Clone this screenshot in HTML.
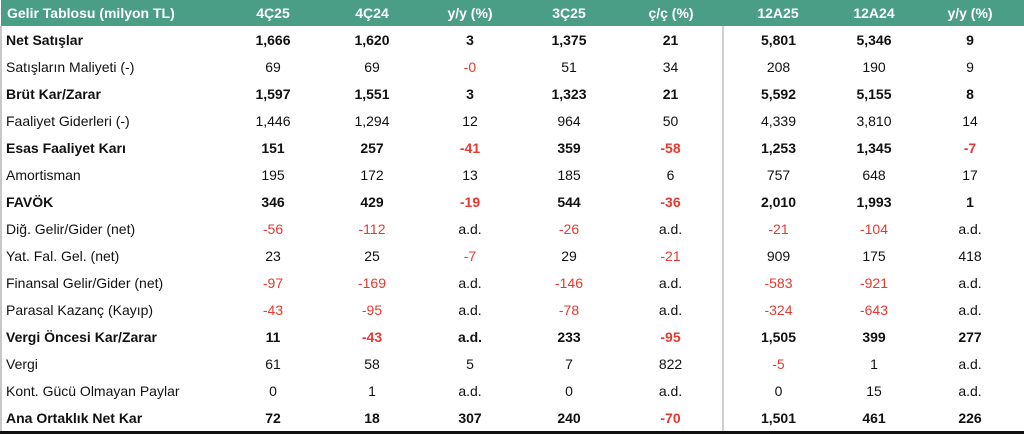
<!DOCTYPE html>
<html><head><meta charset="utf-8"><style>
html,body{margin:0;padding:0;background:#fff;width:1024px;height:434px;overflow:hidden}
table{border-collapse:collapse;table-layout:fixed;width:1024px;font-family:"Liberation Sans",sans-serif;font-size:14px;color:#111}
td{height:27px;padding:0;text-align:center;white-space:nowrap;overflow:hidden}
td:first-child{text-align:left;padding-left:4px;border-left:2px solid #c8c8c8}
tr.h td{background:#4a9e86;color:#fff;font-weight:bold;height:26px;font-size:14px}
tr.h td:first-child{border-left:none;padding-left:6px}
tr.b td{font-weight:bold}
.r{color:#e8382f}
td.s{border-left:2px solid #d0d0d0}
tr.h td.s{border-left:none}
tr.last td{border-bottom:3px solid #111}
</style></head><body>
<table>
<colgroup><col style="width:222px"><col style="width:100px"><col style="width:98px"><col style="width:98px"><col style="width:100px"><col style="width:104px"><col style="width:110px"><col style="width:82px"><col style="width:110px"></colgroup>
<tr class="h"><td>Gelir Tablosu (milyon TL)</td><td>4Ç25</td><td>4Ç24</td><td>y/y (%)</td><td>3Ç25</td><td>ç/ç (%)</td><td class="s">12A25</td><td>12A24</td><td>y/y (%)</td></tr>
<tr class="b"><td>Net Satışlar</td><td>1,666</td><td>1,620</td><td>3</td><td>1,375</td><td>21</td><td class="s">5,801</td><td>5,346</td><td>9</td></tr>
<tr><td>Satışların Maliyeti (-)</td><td>69</td><td>69</td><td class="r">-0</td><td>51</td><td>34</td><td class="s">208</td><td>190</td><td>9</td></tr>
<tr class="b"><td>Brüt Kar/Zarar</td><td>1,597</td><td>1,551</td><td>3</td><td>1,323</td><td>21</td><td class="s">5,592</td><td>5,155</td><td>8</td></tr>
<tr><td>Faaliyet Giderleri (-)</td><td>1,446</td><td>1,294</td><td>12</td><td>964</td><td>50</td><td class="s">4,339</td><td>3,810</td><td>14</td></tr>
<tr class="b"><td>Esas Faaliyet Karı</td><td>151</td><td>257</td><td class="r">-41</td><td>359</td><td class="r">-58</td><td class="s">1,253</td><td>1,345</td><td class="r">-7</td></tr>
<tr><td>Amortisman</td><td>195</td><td>172</td><td>13</td><td>185</td><td>6</td><td class="s">757</td><td>648</td><td>17</td></tr>
<tr class="b"><td>FAVÖK</td><td>346</td><td>429</td><td class="r">-19</td><td>544</td><td class="r">-36</td><td class="s">2,010</td><td>1,993</td><td>1</td></tr>
<tr><td>Diğ. Gelir/Gider (net)</td><td class="r">-56</td><td class="r">-112</td><td>a.d.</td><td class="r">-26</td><td>a.d.</td><td class="s r">-21</td><td class="r">-104</td><td>a.d.</td></tr>
<tr><td>Yat. Fal. Gel. (net)</td><td>23</td><td>25</td><td class="r">-7</td><td>29</td><td class="r">-21</td><td class="s">909</td><td>175</td><td>418</td></tr>
<tr><td>Finansal Gelir/Gider (net)</td><td class="r">-97</td><td class="r">-169</td><td>a.d.</td><td class="r">-146</td><td>a.d.</td><td class="s r">-583</td><td class="r">-921</td><td>a.d.</td></tr>
<tr><td>Parasal Kazanç (Kayıp)</td><td class="r">-43</td><td class="r">-95</td><td>a.d.</td><td class="r">-78</td><td>a.d.</td><td class="s r">-324</td><td class="r">-643</td><td>a.d.</td></tr>
<tr class="b"><td>Vergi Öncesi Kar/Zarar</td><td>11</td><td class="r">-43</td><td>a.d.</td><td>233</td><td class="r">-95</td><td class="s">1,505</td><td>399</td><td>277</td></tr>
<tr><td>Vergi</td><td>61</td><td>58</td><td>5</td><td>7</td><td>822</td><td class="s r">-5</td><td>1</td><td>a.d.</td></tr>
<tr><td>Kont. Gücü Olmayan Paylar</td><td>0</td><td>1</td><td>a.d.</td><td>0</td><td>a.d.</td><td class="s">0</td><td>15</td><td>a.d.</td></tr>
<tr class="b last"><td>Ana Ortaklık Net Kar</td><td>72</td><td>18</td><td>307</td><td>240</td><td class="r">-70</td><td class="s">1,501</td><td>461</td><td>226</td></tr>
</table>
</body></html>
